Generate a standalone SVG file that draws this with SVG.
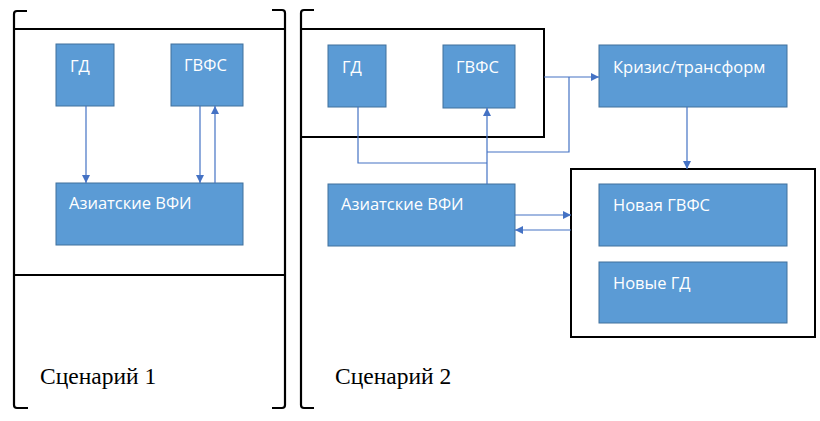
<svg xmlns="http://www.w3.org/2000/svg" width="820" height="421" viewBox="0 0 820 421">
<style>
.box{fill:#5B9BD5;stroke:#41719C;stroke-width:1}
.lbl{font-family:"Open Sans","Liberation Sans",sans-serif;font-size:16.5px;fill:#FFFFFF}
.frame{fill:none;stroke:#000;stroke-width:2}
.brk{fill:none;stroke:#000;stroke-width:2.2;stroke-linejoin:round}
.cap{font-family:"Liberation Serif","Times New Roman",serif;font-size:23.5px;fill:#000}
.con{fill:none;stroke:#4472C4;stroke-width:1.2}
</style>
<defs>
<marker id="ah" viewBox="0 0 10 10" refX="10" refY="5" markerWidth="8" markerHeight="8" markerUnits="userSpaceOnUse" orient="auto">
<path d="M0,0 L10,5 L0,10 z" fill="#4472C4"/>
</marker>
</defs>
<rect width="820" height="421" fill="#fff"/>
<g id="scenario1-frame">
<path class="brk" d="M27,11 L17,11 Q14,11 14,14 L14,405 Q14,408 17,408 L28,408"/>
<path class="brk" d="M272,10 L282,10 Q285,10 285,13 L285,405 Q285,408 282,408 L272,408"/>
<line class="frame" x1="14" y1="29" x2="285" y2="29"/>
<line class="frame" x1="14" y1="275" x2="285" y2="275"/>
<text class="cap" x="40" y="384">Сценарий 1</text>
</g>
<g id="scenario2-frame">
<path class="brk" d="M314,10 L304,10 Q301,10 301,13 L301,405 Q301,408 304,408 L314,408"/>
<rect class="frame" x="301" y="29" width="243" height="108"/>
<rect class="frame" x="571" y="169" width="244" height="168"/>
<text class="cap" x="335" y="384">Сценарий 2</text>
</g>
<g id="s1-gd"><rect class="box" x="56" y="44" width="58" height="62"/><text class="lbl" x="70" y="72">ГД</text></g>
<g id="s1-gvfs"><rect class="box" x="171" y="44" width="72" height="62"/><text class="lbl" x="184" y="71">ГВФС</text></g>
<g id="s1-vfi"><rect class="box" x="56" y="183" width="187" height="62"/><text class="lbl" x="69" y="209">Азиатские ВФИ</text></g>
<g id="s2-gd"><rect class="box" x="328" y="45" width="58" height="62"/><text class="lbl" x="342" y="73">ГД</text></g>
<g id="s2-gvfs"><rect class="box" x="443" y="45" width="72" height="63"/><text class="lbl" x="456" y="73">ГВФС</text></g>
<g id="s2-vfi"><rect class="box" x="328" y="184" width="187" height="62"/><text class="lbl" x="341" y="210">Азиатские ВФИ</text></g>
<g id="crisis"><rect class="box" x="599" y="45" width="188" height="62"/><text class="lbl" x="613" y="73">Кризис/трансформ</text></g>
<g id="new-gvfs"><rect class="box" x="599" y="184" width="188" height="62"/><text class="lbl" x="613" y="211">Новая ГВФС</text></g>
<g id="new-gd"><rect class="box" x="599" y="262" width="188" height="61"/><text class="lbl" x="613" y="289">Новые ГД</text></g>
<g id="connectors">
<line class="con" x1="86" y1="106" x2="86" y2="183" marker-end="url(#ah)"/>
<line class="con" x1="200" y1="106" x2="200" y2="183" marker-end="url(#ah)"/>
<line class="con" x1="215" y1="183" x2="215" y2="106" marker-end="url(#ah)"/>
<polyline class="con" points="358,107 358,163 487,163"/>
<line class="con" x1="487" y1="184" x2="487" y2="108" marker-end="url(#ah)"/>
<polyline class="con" points="487,152 569,152 569,77"/>
<line class="con" x1="544" y1="77" x2="599" y2="77" marker-end="url(#ah)"/>
<line class="con" x1="687" y1="107" x2="687" y2="169" marker-end="url(#ah)"/>
<line class="con" x1="515" y1="215" x2="571" y2="215" marker-end="url(#ah)"/>
<line class="con" x1="571" y1="230" x2="515" y2="230" marker-end="url(#ah)"/>
</g>
</svg>
